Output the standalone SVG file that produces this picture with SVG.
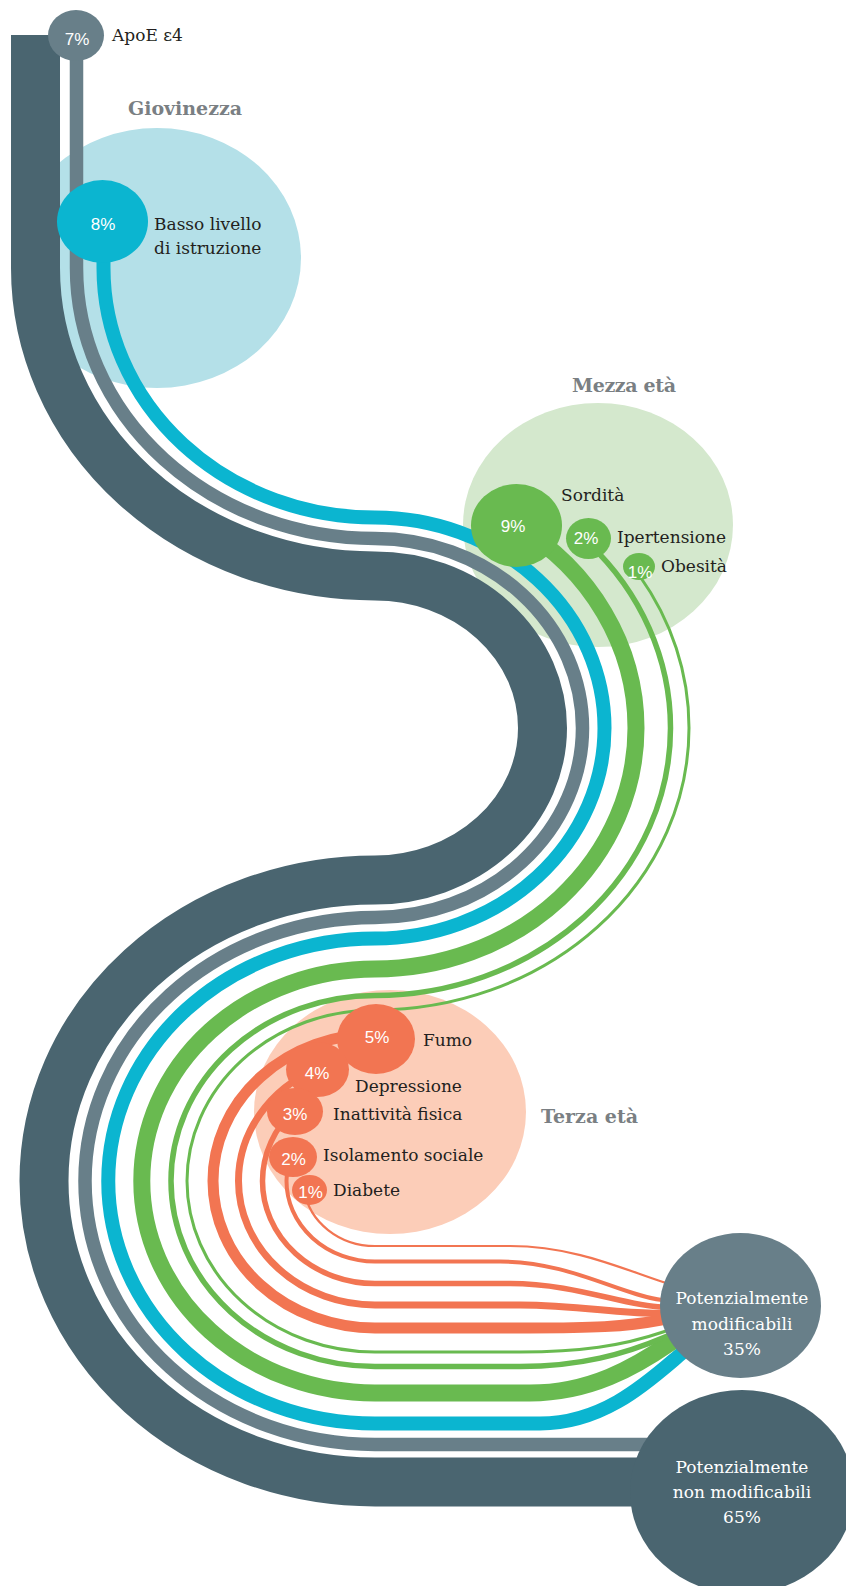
<svg xmlns="http://www.w3.org/2000/svg" width="846" height="1586" viewBox="0 0 846 1586">
<style>
.band{fill:none;stroke-linecap:butt;stroke-linejoin:round}
.dk{stroke:#4a6570}
.gy{stroke:#687f89}
.cy{stroke:#0bb5d0}
.gr{stroke:#69ba50}
.rd{stroke:#f27552}
.fdk{fill:#4a6570}
.fgy{fill:#687f89}
.fcy{fill:#0bb5d0}
.fgr{fill:#69ba50}
.frd{fill:#f27552}
.lbl{font-family:"DejaVu Serif","Liberation Serif",serif;font-size:17px;fill:#231f20}
.hdr{font-family:"DejaVu Serif","Liberation Serif",serif;font-size:19px;font-weight:bold;fill:#7a7f83}
.pct{font-family:"Liberation Sans","DejaVu Sans",sans-serif;font-size:17px;fill:#ffffff;text-anchor:middle}
.big{font-family:"DejaVu Serif","Liberation Serif",serif;font-size:17px;fill:#ffffff;text-anchor:middle}
</style>
<rect width="846" height="1586" fill="#ffffff"/>
<g id="stages">
  <g id="giovinezza"><ellipse cx="157" cy="258" rx="144" ry="130" fill="#b4e0e8"/><text class="hdr" x="128" y="115" textLength="114">Giovinezza</text></g>
  <g id="mezza-eta"><ellipse cx="598" cy="525" rx="135" ry="122" fill="#d4e8cd"/><text class="hdr" x="572" y="392" textLength="104">Mezza età</text></g>
  <g id="terza-eta"><ellipse cx="390" cy="1112" rx="136" ry="122" fill="#fccdb8"/><text class="hdr" x="541" y="1123" textLength="97">Terza età</text></g>
</g>
<g id="connectors">
  <path class="band dk" stroke-width="49" d="M35.5 35 V268 A339.5 308 0 0 0 375 576 A167.5 152 0 0 1 542.5 728 A167.5 152 0 0 1 375 880 A331 301 0 0 0 44 1181 A331 301 0 0 0 375 1482 H742"/>
  <path class="band gy" stroke-width="13.5" d="M76.5 40 V268 A298.5 270.5 0 0 0 375 538.5 A207.5 189.5 0 0 1 582.5 728 A207.5 189.5 0 0 1 375 917.5 A290 263.5 0 0 0 85 1181 A290 263.5 0 0 0 375 1444.5 H742"/>
  <path class="band cy" stroke-width="14" d="M103.5 222 V268 A271.5 249.5 0 0 0 375 517.5 A229.5 210.5 0 0 1 604.5 728 A229.5 210.5 0 0 1 375 938.5 A266.75 242.5 0 0 0 108.25 1181 A266.75 242.5 0 0 0 375 1423.5 H540 C605 1423.5 650 1380 682 1353 L705 1333.6"/>
  <path class="band gr" stroke-width="17" d="M516.5 525.5 A261 241 0 0 1 636 728 A261 241 0 0 1 375 969 A233.2 212 0 0 0 141.8 1181 A233.2 212 0 0 0 375 1393 H530 C590 1393 635 1367 670 1343 L700 1322.4"/>
  <path class="band gr" stroke-width="5.5" d="M588.5 543 A295.5 267.5 0 0 1 670.5 728 A295.5 267.5 0 0 1 375 995.5 A204 185.5 0 0 0 171 1181 A204 185.5 0 0 0 375 1366.5 H520 C580 1366.5 625 1354 665 1337 L695 1324"/>
  <path class="band gr" stroke-width="3" d="M639 575 A314 282 0 0 1 689 728 A314 282 0 0 1 375 1010 A188 171 0 0 0 187 1181 A188 171 0 0 0 375 1352 H520 C580 1352 622 1346 663 1332 L695 1321"/>
  <path class="band rd" stroke-width="11" d="M375 1034 A162 147 0 0 0 213 1181 A162 147 0 0 0 375 1328 H530 C590 1328 625 1327 661 1320 L695 1313.4"/>
  <path class="band rd" stroke-width="7" d="M317.5 1068.5 A136.5 124 0 0 0 238.5 1181 A136.5 124 0 0 0 375 1305 H520 C580 1305 625 1315 661 1313 L695 1311"/>
  <path class="band rd" stroke-width="5.5" d="M295 1109 A112.5 102.5 0 0 0 262.5 1181 A112.5 102.5 0 0 0 375 1283.5 H510 C575 1283.5 625 1306 662 1307 L695 1308"/>
  <path class="band rd" stroke-width="4" d="M293 1150.7 A88.5 80.5 0 0 0 286.5 1181 A88.5 80.5 0 0 0 375 1261.5 H500 C570 1261.5 620 1295 662 1300 L695 1304"/>
  <path class="band rd" stroke-width="2.2" d="M304.2 1190 A71.5 65 0 0 0 375 1246 H510 C575 1246 625 1270 663 1282 L695 1292"/>
</g>
<g id="apoe"><ellipse class="fgy" cx="76" cy="35.5" rx="28" ry="25.5"/><text class="pct" x="77" y="45">7%</text><text class="lbl" x="112" y="40.5">ApoE ε4</text></g>
<g id="istruzione"><ellipse class="fcy" cx="102.5" cy="221.5" rx="45.5" ry="41.5"/><text class="pct" x="103" y="230">8%</text><text class="lbl" x="154" y="229.5">Basso livello</text><text class="lbl" x="154" y="254">di istruzione</text></g>
<g id="sordita"><ellipse class="fgr" cx="516.5" cy="525.5" rx="45.5" ry="41.5"/><text class="pct" x="513" y="532">9%</text><text class="lbl" x="561" y="501">Sordità</text></g>
<g id="ipertensione"><ellipse class="fgr" cx="588.5" cy="538.5" rx="22.5" ry="20.5"/><text class="pct" x="586" y="544">2%</text><text class="lbl" x="617" y="543">Ipertensione</text></g>
<g id="obesita"><ellipse class="fgr" cx="639" cy="566.5" rx="16" ry="13.5"/><text class="pct" x="640" y="578" font-size="16">1%</text><text class="lbl" x="661" y="572">Obesità</text></g>
<g id="fumo"><ellipse class="frd" cx="376" cy="1039" rx="39" ry="35"/><text class="pct" x="377" y="1043">5%</text><text class="lbl" x="423" y="1046">Fumo</text></g>
<g id="depressione"><ellipse class="frd" cx="317.5" cy="1069.5" rx="31.5" ry="27.5"/><text class="pct" x="317" y="1079">4%</text><text class="lbl" x="355" y="1092">Depressione</text></g>
<g id="inattivita"><ellipse class="frd" cx="295" cy="1111.5" rx="28" ry="23.5"/><text class="pct" x="295" y="1120">3%</text><text class="lbl" x="333" y="1120">Inattività fisica</text></g>
<g id="isolamento"><ellipse class="frd" cx="293" cy="1157" rx="24" ry="20"/><text class="pct" x="293.5" y="1165">2%</text><text class="lbl" x="323" y="1161">Isolamento sociale</text></g>
<g id="diabete"><ellipse class="frd" cx="309.5" cy="1190" rx="17.5" ry="15"/><text class="pct" x="310.5" y="1198" font-size="16">1%</text><text class="lbl" x="333" y="1196">Diabete</text></g>
<g id="modificabili"><ellipse class="fgy" cx="740.5" cy="1305.5" rx="80.5" ry="72.5"/><text class="big" x="742" y="1304">Potenzialmente</text><text class="big" x="742" y="1330">modificabili</text><text class="big" x="742" y="1355">35%</text></g>
<g id="non-modificabili"><ellipse class="fdk" cx="742" cy="1492" rx="112" ry="102"/><text class="big" x="742" y="1473">Potenzialmente</text><text class="big" x="742" y="1498">non modificabili</text><text class="big" x="742" y="1523">65%</text></g>
</svg>
